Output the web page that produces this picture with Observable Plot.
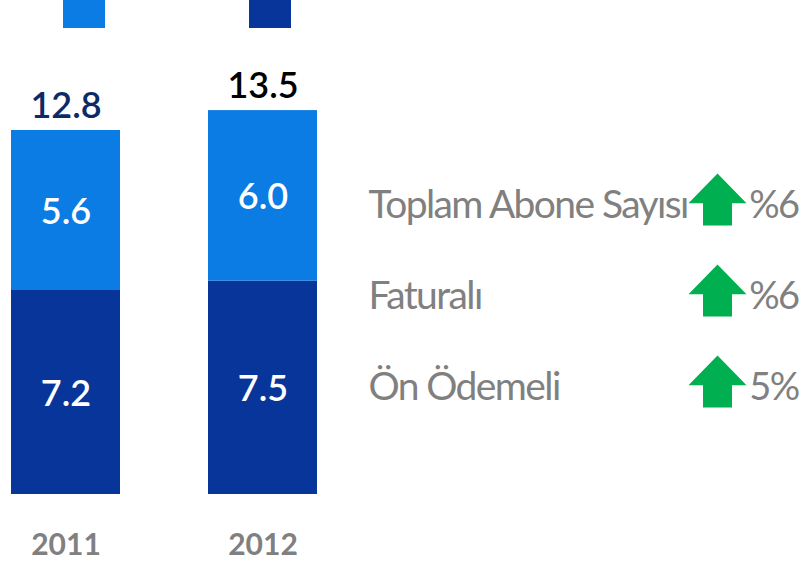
<!DOCTYPE html>
<html>
<head>
<meta charset="utf-8">
<script src="https://cdn.jsdelivr.net/npm/d3@7"></script>
<script src="https://cdn.jsdelivr.net/npm/@observablehq/plot@0.6"></script>
<style>
  html, body { margin: 0; padding: 0; background: #fff; }
  #wrap { position: relative; width: 804px; height: 561px; overflow: hidden; font-family: Lato, sans-serif; }
  #main { position: absolute; left: 0; top: 0; }
  #panel { position: absolute; left: 360px; top: 150px; }
  #panel text { letter-spacing: -1.6px; }
  .swatch { position: absolute; top: 0; width: 42px; height: 28px; }
</style>
</head>
<body>
<div id="wrap">
  <div id="legend"></div>
  <div id="main"></div>
  <div id="panel"></div>
</div>
<script>
// ---- data ----
const years = ["2011", "2012"];
const seriesNames = ["Ön Ödemeli", "Faturalı"];        // bottom, top
const seriesColors = ["#08359a", "#0b7ce4"];
const onOdemeli = [7.2, 7.5];
const faturali = [5.6, 6.0];
const totals = [12.8, 13.5];
const totalColors = ["#0c2a66", "#000000"];
const legendOrder = ["Faturalı", "Ön Ödemeli"];

const rowLabels = ["Toplam Abone Sayısı", "Faturalı", "Ön Ödemeli"];
const rowChanges = ["%6", "%6", "5%"];

// ---- build tables ----
const stacked = [];
years.forEach((yr, i) => {
  stacked.push({year: yr, series: seriesNames[0], value: onOdemeli[i]});
  stacked.push({year: yr, series: seriesNames[1], value: faturali[i]});
});
const totalRows = years.map((yr, i) => ({year: yr, total: totals[i], color: totalColors[i]}));
const rows = rowLabels.map((l, i) => ({label: l, change: rowChanges[i]}));

// legend swatches (labels cropped off in the reference)
const legendX = {"Faturalı": 63, "Ön Ödemeli": 249};
const legend = document.getElementById("legend");
legendOrder.forEach(name => {
  const d = document.createElement("div");
  d.className = "swatch";
  d.style.left = legendX[name] + "px";
  d.style.background = seriesColors[seriesNames.indexOf(name)];
  legend.appendChild(d);
});

// ---- main chart ----
const main = Plot.plot({
  width: 804,
  height: 561,
  marginTop: 130,
  marginBottom: 67,
  marginLeft: 0,
  marginRight: 0,
  style: {fontFamily: "Lato, sans-serif", background: "transparent"},
  x: {domain: years, range: [11, 317], paddingInner: 0.447, paddingOuter: 0, axis: null},
  y: {domain: [0, 12.8], axis: null},
  color: {domain: seriesNames, range: seriesColors},
  marks: [
    Plot.barY(stacked, {x: "year", y: "value", fill: "series", order: null}),
    Plot.text(stacked, Plot.stackY({x: "year", y: "value", text: d => d.value.toFixed(1), fill: "#ffffff", fontSize: 36, fontWeight: 600, dy: 2, order: null})),
    ...totalRows.map(t => Plot.text([t], {x: "year", y: "total", text: d => d.total.toFixed(1), fill: t.color, fontSize: 36, fontWeight: 600, lineAnchor: "bottom", dy: -13})),
    Plot.axisX({tickSize: 0, tickPadding: 39, fontSize: 30, fontWeight: "bold", fill: "#808080", label: null})
  ]
});
document.getElementById("main").appendChild(main);

// ---- right panel ----
const arrowSymbol = {
  draw(ctx, size) {
    const r = Math.sqrt(size / Math.PI);
    const top = -0.9 * r, base = 0.13 * r, bottom = 0.9 * r, sw = 0.5 * r;
    ctx.moveTo(0, top);
    ctx.lineTo(r, base);
    ctx.lineTo(sw, base);
    ctx.lineTo(sw, bottom);
    ctx.lineTo(-sw, bottom);
    ctx.lineTo(-sw, base);
    ctx.lineTo(-r, base);
    ctx.closePath();
  }
};

const panel = Plot.plot({
  width: 444,
  height: 280,
  marginTop: 0,
  marginBottom: 0,
  marginLeft: 8,
  marginRight: 6,
  style: {fontFamily: "Lato, sans-serif", background: "transparent"},
  y: {domain: rowLabels, type: "point", range: [49, 231], padding: 0, axis: null},
  marks: [
    Plot.text(rows, {y: "label", text: "label", frameAnchor: "left", textAnchor: "start", fill: "#808080", fontSize: 39, dy: 6}),
    Plot.dot(rows, {y: "label", frameAnchor: "right", dx: -81, r: 29, symbol: arrowSymbol, fill: "#00b050", stroke: "none"}),
    Plot.text(rows, {y: "label", text: "change", frameAnchor: "right", textAnchor: "end", fill: "#808080", fontSize: 38, dy: 6})
  ]
});
document.getElementById("panel").appendChild(panel);
</script>
</body>
</html>
